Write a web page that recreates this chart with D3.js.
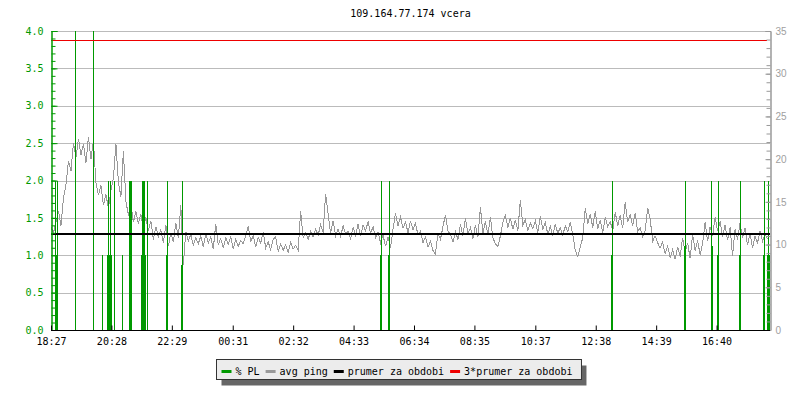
<!DOCTYPE html>
<html>
<head>
<meta charset="utf-8">
<script src="https://cdn.jsdelivr.net/npm/d3@7"></script>
<style>
  body { margin: 0; background: #fff; }
  text { font-family: "DejaVu Sans Mono", monospace; font-size: 10px; }
</style>
</head>
<body>
<div id="chart"></div>
<script>
// title
const title = '109.164.77.174 vcera';

// time axis: minutes after 18:27, labels as printed
const timeTicks = [0, 121, 242, 364, 485, 606, 727, 848, 970, 1091, 1212, 1333];
const timeLabels = ['18:27', '20:28', '22:29', '00:31', '02:32', '04:33', '06:34', '08:35', '10:37', '12:38', '14:39', '16:40'];
const spanMinutes = 1440;

// avg ping in ms, one sample every 5 minutes
const pingStep = 5;
const pingMs = [
    12.0, 11.4, 12.6, 13.9, 12.2, 15.5, 17.0, 19.8, 18.6, 21.9, 20.2, 22.4, 20.5, 21.8, 19.6, 22.6,
    20.0, 22.1, 17.2, 15.8, 16.9, 14.6, 15.9, 14.2, 16.3, 17.8, 21.8, 17.3, 15.6, 20.9, 15.1, 13.4,
    14.9, 12.6, 13.9, 12.4, 13.6, 11.8, 13.2, 11.6, 12.8, 10.6, 12.1, 10.9, 11.7, 10.2, 12.3, 9.8,
    11.4, 10.3, 12.5, 10.8, 14.6, 7.6, 11.5, 10.4, 11.2, 9.9, 10.8, 10.1, 11.0, 9.7, 11.3, 10.2,
    10.9, 9.5, 12.4, 10.0, 10.7, 9.6, 10.8, 10.0, 10.9, 9.5, 10.6, 9.8, 10.5, 10.1, 11.0, 12.2,
    10.3, 11.1, 9.7, 10.8, 10.2, 11.5, 9.6, 10.3, 9.4, 10.6, 10.9, 9.2, 10.1, 9.3, 10.0, 9.1,
    10.3, 9.5, 9.9, 9.3, 13.9, 10.8, 11.4, 10.6, 11.6, 10.9, 11.8, 11.1, 12.3, 11.4, 15.9, 13.6,
    11.3, 12.8, 11.0, 11.8, 10.9, 12.2, 11.2, 11.6, 10.7, 12.0, 11.1, 12.4, 11.0, 12.3, 11.6, 12.7,
    11.3, 12.1, 10.8, 11.5, 10.2, 11.1, 9.8, 10.9, 9.6, 11.8, 13.7, 12.2, 13.2, 11.9, 12.6, 11.4,
    12.8, 11.7, 12.5, 11.1, 11.6, 10.2, 10.9, 9.7, 10.4, 9.3, 8.9, 11.3, 10.6, 12.1, 13.5, 11.6,
    11.2, 10.3, 11.5, 10.6, 12.4, 11.0, 13.1, 11.2, 12.0, 10.7, 12.3, 10.9, 14.4, 11.3, 12.7, 11.1,
    13.2, 10.8, 10.1, 9.8, 11.0, 12.6, 13.4, 12.0, 13.1, 11.8, 12.9, 11.6, 15.2, 12.3, 12.9, 11.7,
    12.5, 11.9, 12.8, 11.4, 13.3, 11.8, 12.6, 11.2, 12.1, 11.0, 12.4, 11.3, 12.0, 11.1, 12.2, 11.5,
    12.6, 11.2, 9.3, 8.6, 9.7, 10.8, 14.3, 12.4, 13.6, 12.0, 13.9, 11.8, 12.9, 11.4, 13.2, 12.1,
    12.7, 11.6, 13.8, 12.2, 13.4, 11.9, 15.0, 12.6, 13.5, 12.2, 13.7, 11.5, 12.0, 10.9, 11.6, 14.3,
    13.0, 10.4, 11.0, 10.2, 9.6, 10.3, 8.9, 9.8, 8.5, 9.4, 8.3, 9.7, 8.6, 10.8, 9.0, 10.2,
    8.4, 11.2, 9.3, 10.5, 8.8, 10.1, 12.6, 10.4, 12.1, 11.0, 13.2, 11.6, 12.7, 10.9, 12.3, 10.5,
    12.0, 8.7, 11.8, 10.6, 12.5, 10.8, 11.9, 9.9, 11.3, 9.6, 11.0, 10.2, 11.6, 10.4, 11.2, 10.7
];

// packet loss events: [start minute, duration minutes, % PL]
const plEvents = [
    [8, 6, 1], [8, 2, 2], [12, 2, 2],
    [48, 3, 2], [49, 2, 4.5], [84, 2, 4.5],
    [103, 3, 1], [112, 11, 1], [114, 2, 2], [118, 2, 2],
    [127, 3, 2], [142, 3, 1], [156, 7, 2],
    [181, 10, 1], [183, 6, 2], [192, 2, 2],
    [230, 4, 1], [232, 2, 2], [261, 4, 0.87], [262, 2, 2],
    [659, 5, 1], [661, 2, 2], [675, 4, 1], [676, 2, 2],
    [1122, 5, 1], [1124, 2, 2], [1268, 5, 1.12], [1270, 2, 2],
    [1321, 4, 1.12], [1322, 2, 2], [1334, 4, 1], [1335, 2, 2],
    [1378, 4, 1], [1379, 2, 2], [1426, 4, 1], [1427, 2, 2],
    [1434, 6, 1], [1436, 2, 2]
];

// period means (ms)
const meanPing = 11.25;
const tripleMeanPing = 34.0;

const legendNames = ['% PL', 'avg ping', 'prumer za obdobi', '3*prumer za obdobi'];
const legendColors = ['#009900', '#999999', '#000000', '#ee0000'];

let width = 800, height = 400;
let margin = { left: 51, right: 30, top: 31, bottom: 70 };

let svg = d3.select('#chart')
    .append('svg')
    .attr('width', width)
    .attr('height', height)
    .style('background-color', '#fff');

let x = d3.scaleLinear().domain([0, spanMinutes]).range([margin.left, width - margin.right]);
let yL = d3.scaleLinear().domain([0, 4]).range([height - margin.bottom, margin.top]).clamp(true);
let yR = d3.scaleLinear().domain([0, 35]).range([height - margin.bottom, margin.top]);

let x0 = x.range()[0], x1 = x.range()[1];
let yBase = yL(0);

// title over plot center
svg.append('text')
    .attr('x', (x0 + x1) / 2)
    .attr('y', 17)
    .attr('text-anchor', 'middle')
    .attr('fill', '#000')
    .text(title);

// horizontal grid
svg.append('g')
    .selectAll('line')
    .data(d3.range(0.5, 4.01, 0.5))
    .enter()
    .append('line')
    .attr('x1', x0).attr('x2', x1)
    .attr('y1', d => Math.round(yL(d)) + 0.5)
    .attr('y2', d => Math.round(yL(d)) + 0.5)
    .style('stroke', '#bbbbbb')
    .style('stroke-width', 1);

// ping line
let pingLine = d3.line()
    .x((d, i) => x(i * pingStep))
    .y(d => yR(d));

svg.append('path')
    .datum(pingMs)
    .attr('d', pingLine)
    .attr('shape-rendering', 'crispEdges')
    .style('fill', 'none')
    .style('stroke', '#999999')
    .style('stroke-width', 1);

// packet loss bars
svg.append('g')
    .selectAll('rect')
    .data(plEvents)
    .enter()
    .append('rect')
    .attr('x', d => Math.round(x(d[0])))
    .attr('width', d => Math.max(1, Math.round(x(d[0] + d[1]) - x(d[0]))))
    .attr('y', d => Math.round(yL(d[2])))
    .attr('height', d => yBase - Math.round(yL(d[2])))
    .style('fill', '#009900')
    .attr('shape-rendering', 'crispEdges');

// mean lines
svg.append('line')
    .attr('x1', x0).attr('x2', x1)
    .attr('y1', Math.round(yR(meanPing))).attr('y2', Math.round(yR(meanPing)))
    .style('stroke', '#000')
    .style('stroke-width', 2);

svg.append('line')
    .attr('x1', x0).attr('x2', x1 - 3)
    .attr('y1', Math.round(yR(tripleMeanPing)) + 0.5).attr('y2', Math.round(yR(tripleMeanPing)) + 0.5)
    .style('stroke', '#ee0000')
    .style('stroke-width', 1);

// left axis (PL %), ticks inside
let leftMinor = svg.append('g')
    .attr('transform', 'translate(' + (x0 + 0.5) + ',0)')
    .call(d3.axisLeft(yL).tickValues(d3.range(0, 4.01, 0.1)).tickSize(-4).tickFormat(''));
let leftMajor = svg.append('g')
    .attr('transform', 'translate(' + (x0 + 0.5) + ',0)')
    .call(d3.axisLeft(yL).tickValues(d3.range(0, 4.01, 0.5)).tickSize(-6).tickPadding(8).tickFormat(d3.format('.1f')));
[leftMinor, leftMajor].forEach(function (g) {
    g.selectAll('path,line').style('stroke', '#009900');
    g.selectAll('text').style('fill', '#009900').style('font-size', '10px')
        .style('font-family', '"DejaVu Sans Mono", monospace');
});

// right axis (ms), ticks inside
let rightMinor = svg.append('g')
    .attr('transform', 'translate(' + (x1 + 0.5) + ',0)')
    .call(d3.axisRight(yR).ticks(35).tickSize(-4).tickFormat(''));
let rightMajor = svg.append('g')
    .attr('transform', 'translate(' + (x1 + 0.5) + ',0)')
    .call(d3.axisRight(yR).tickValues(d3.range(0, 36, 5)).tickSize(-5).tickPadding(5).tickFormat(d3.format('d')));
[rightMinor, rightMajor].forEach(function (g) {
    g.selectAll('path,line').style('stroke', '#999999');
    g.selectAll('text').style('fill', '#a0a0a0').style('font-size', '10px')
        .style('font-family', '"Liberation Sans", Arial, sans-serif');
});

// time axis
let bottom = svg.append('g')
    .attr('transform', 'translate(0,' + (yBase + 0.5) + ')')
    .call(d3.axisBottom(x).tickValues(timeTicks).tickSize(-5).tickPadding(7)
        .tickFormat((d, i) => timeLabels[i]));
bottom.select('.domain').attr('d', 'M' + x0 + ',0H' + x1).style('stroke', '#000');
bottom.selectAll('line').style('stroke', '#000');
bottom.selectAll('text').style('fill', '#000').style('font-size', '10px')
    .style('font-family', '"DejaVu Sans Mono", monospace');

// legend
let legend = svg.append('g');
let shadow = legend.append('rect').style('fill', '#666');
let box = legend.append('rect').style('fill', '#ececec').style('stroke', '#333').style('stroke-width', 1);
let cx = 0;
let items = legend.append('g');
legendNames.forEach(function (name, i) {
    items.append('line')
        .attr('x1', cx).attr('x2', cx + 10)
        .attr('y1', 0).attr('y2', 0)
        .style('stroke', legendColors[i])
        .style('stroke-width', 3);
    let t = items.append('text')
        .attr('x', cx + 14)
        .attr('y', 3.5)
        .style('fill', '#000')
        .text(name);
    cx += 14 + t.node().getComputedTextLength() + 6;
});
let itemsWidth = cx - 6;
let boxW = itemsWidth + 14, boxH = 20;
let boxX = Math.round(398.5 - boxW / 2) + 0.5, boxY = 359.5;
box.attr('x', boxX).attr('y', boxY).attr('width', boxW).attr('height', boxH);
shadow.attr('x', boxX + 5).attr('y', boxY + 6).attr('width', boxW).attr('height', boxH);
items.attr('transform', 'translate(' + (boxX + 5) + ',' + (boxY + 12) + ')');
</script>
</body>
</html>
